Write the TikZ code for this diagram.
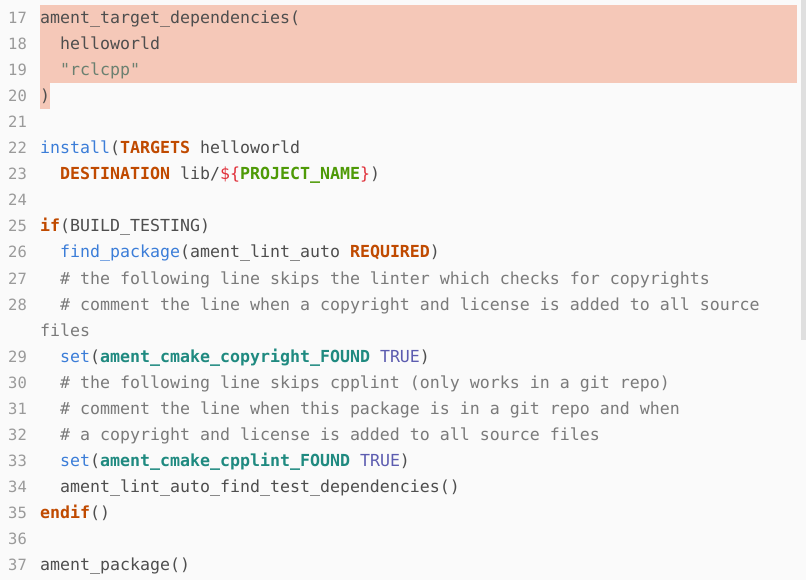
\documentclass[tikz,border=0pt]{standalone}
\usepackage{fontspec}
\setmonofont{DejaVu Sans Mono}
\usetikzlibrary{positioning}

\definecolor{bgcol}{HTML}{FAFAFA}
\definecolor{hlcol}{HTML}{F5C8B8}
\definecolor{numcol}{HTML}{9A9A9A}
\definecolor{txtcol}{HTML}{4E4E4E}
\definecolor{fncol}{HTML}{3B7DD8}
\definecolor{kwcol}{HTML}{C04A00}
\definecolor{varcol}{HTML}{4E9A06}
\definecolor{dolcol}{HTML}{E0303A}
\definecolor{flagcol}{HTML}{1F8A80}
\definecolor{boolcol}{HTML}{5C5CB0}
\definecolor{strcol}{HTML}{6B8070}
\definecolor{comcol}{HTML}{7A7A7A}

\newcommand{\fn}[1]{\textcolor{fncol}{#1}}
\newcommand{\kw}[1]{\textcolor{kwcol}{\bfseries #1}}
\newcommand{\pv}[1]{\textcolor{varcol}{\bfseries #1}}
\newcommand{\dl}[1]{\textcolor{dolcol}{#1}}
\newcommand{\fl}[1]{\textcolor{flagcol}{\bfseries #1}}
\newcommand{\bo}[1]{\textcolor{boolcol}{#1}}
\newcommand{\st}[1]{\textcolor{strcol}{#1}}
\newcommand{\cm}[1]{\textcolor{comcol}{#1}}

\tikzset{
	num/.style={anchor=base west,inner sep=0pt,text=numcol,font=\ttfamily\fontsize{15.5}{18}\selectfont},
	code/.style={anchor=base west,inner sep=0pt,text=txtcol,font=\ttfamily\fontsize{16.6}{18}\selectfont},
}

\begin{document}
\begin{tikzpicture}[x=1pt,y=-1pt]

\fill[bgcol] (0,0) rectangle (806,580);
\fill[hlcol] (40,5) rectangle (797,83);
\fill[hlcol] (40,83) rectangle (50,109);
\fill[gray!25] (801,0) rectangle (806,340);

% line numbers (row 12 is the wrapped part of 28)
\foreach \n/\r in {17/0,18/1,19/2,20/3,21/4,22/5,23/6,24/7,25/8,26/9,27/10,28/11,
	29/13,30/14,31/15,32/16,33/17,34/18,35/19,36/20,37/21}{
	\node[num] (n\n) at (8,{24+26*\r}) {\n};
}

\node[code] (l17) at (40,24) {ament\_target\_dependencies(};
\node[code] (l18) at (60,50) {helloworld};
\node[code] (l19) at (60,76) {\st{"rclcpp"}};
\node[code] (l20) at (40,102) {)};
\node[code] (l22) at (40,154) {\fn{install}(\kw{TARGETS} helloworld};
\node[code] (l23) at (60,180) {\kw{DESTINATION} lib/\dl{\$\{}\pv{PROJECT\_NAME}\dl{\}})};
\node[code] (l25) at (40,232) {\kw{if}(BUILD\_TESTING)};
\node[code] (l26) at (60,258) {\fn{find\_package}(ament\_lint\_auto \kw{REQUIRED})};
\node[code] (l27) at (60,284) {\cm{\# the following line skips the linter which checks for copyrights}};
\node[code] (l28) at (60,310) {\cm{\# comment the line when a copyright and license is added to all source}};
\node[code] (l28b) at (40,336) {\cm{files}};
\node[code] (l29) at (60,362) {\fn{set}(\fl{ament\_cmake\_copyright\_FOUND} \bo{TRUE})};
\node[code] (l30) at (60,388) {\cm{\# the following line skips cpplint (only works in a git repo)}};
\node[code] (l31) at (60,414) {\cm{\# comment the line when this package is in a git repo and when}};
\node[code] (l32) at (60,440) {\cm{\# a copyright and license is added to all source files}};
\node[code] (l33) at (60,466) {\fn{set}(\fl{ament\_cmake\_cpplint\_FOUND} \bo{TRUE})};
\node[code] (l34) at (60,492) {ament\_lint\_auto\_find\_test\_dependencies()};
\node[code] (l35) at (40,518) {\kw{endif}()};
\node[code] (l37) at (40,570) {ament\_package()};

\end{tikzpicture}
\end{document}
